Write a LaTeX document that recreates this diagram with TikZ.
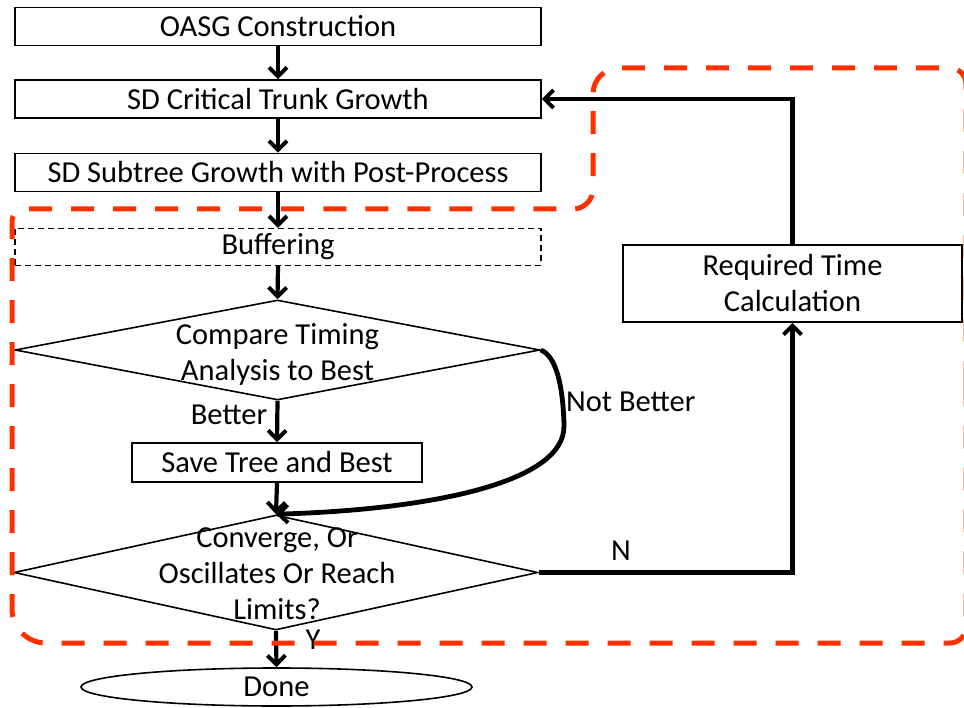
\documentclass[tikz,border=0pt]{standalone}
\usepackage{fontspec}
\setmainfont{Carlito}
\usetikzlibrary{arrows.meta,shapes.geometric,calc}
\definecolor{dashred}{RGB}{255,48,0}
\begin{document}
\begin{tikzpicture}[x=1pt,y=-1pt,
  font=\fontsize{30.5}{36}\selectfont,
  box/.style={draw, line width=1.6pt, inner sep=0pt, minimum height=38pt},
  dbox/.style={draw, line width=1.3pt, dash pattern=on 6pt off 4pt, inner sep=0pt, minimum height=37pt},
  dia/.style={draw, line width=1.6pt, shape=diamond, inner sep=0pt},
  txt/.style={inner sep=0pt, align=center},
  arr/.style={line width=4.2pt, -{Straight Barb[length=9pt,width=18pt,line width=4pt]}},
  lbl/.style={inner sep=0pt},
  reddash/.style={draw=dashred, line width=5pt, dash pattern=on 23pt off 19pt}
]
\useasboundingbox (0,0) rectangle (964,708);

\node[box, minimum width=526pt] (oasg) at (278,26.5) {OASG Construction};
\node[box, minimum width=526pt] (crit) at (278,99) {SD Critical Trunk Growth};
\node[box, minimum width=526pt] (sub) at (278,172.5) {SD Subtree Growth with Post-Process};
\node[dbox, minimum width=526pt] (buf) at (278,247) {Buffering};

\node[dia, minimum width=525pt, minimum height=100pt] (d1) at (277.5,350) {};
\node[txt] (d1t) at (277.5,354) {Compare Timing\\Analysis to Best};

\node[box, minimum width=290pt, minimum height=39pt] (save) at (277,462.5) {Save Tree and Best};

\node[dia, minimum width=524pt, minimum height=115pt] (d2) at (276,572.5) {};
\node[txt] (d2t) at (277,574) {Converge, Or\\Oscillates Or Reach\\Limits?};

\node[draw, line width=1.6pt, shape=ellipse, inner sep=0pt, minimum width=391pt, minimum height=38pt] (done) at (276.5,687) {Done};

\node[box, minimum width=339pt, minimum height=77pt, align=center] (req) at (792.5,283.5) {Required Time\\Calculation};

% connectors
\draw[arr] (oasg.south) -- (crit.north);
\draw[arr] (crit.south) -- (sub.north);
\draw[arr] (sub.south) -- (buf.north);
\draw[arr] (buf.south) -- (d1.north);
\draw[arr] (d1.south) -- node[lbl, left=8pt, pos=0.35] (better) {Better} (save.north);
\draw[arr] (save.south) -- (d2.north);
\draw[arr] (d2.south) -- (done.north);
\node[lbl] (ylbl) at (313,640) {Y};
\draw[arr] (d2.east) -| (req.south);
\node[lbl] (nlbl) at (621,551) {N};
\draw[arr] (req.north) |- (crit.east);
\draw[arr, line width=4.8pt] (d1.east) .. controls (556,356) and (563,385) .. (564,425)
  .. controls (566,485) and (420,510) .. (d2.north);
\node[lbl, anchor=west] (nb) at (566,402) {Not Better};

% red dashed region
\draw[reddash, rounded corners=16pt] (966,400) -- (966,68)
  [rounded corners=26pt] -- (593,68)
  [rounded corners=20pt] -- (593,209)
  [rounded corners=12pt] -- (12,209)
  [rounded corners=34pt] -- (12,643)
  [rounded corners=16pt] -- (966,643) -- cycle;
\end{tikzpicture}
\end{document}
